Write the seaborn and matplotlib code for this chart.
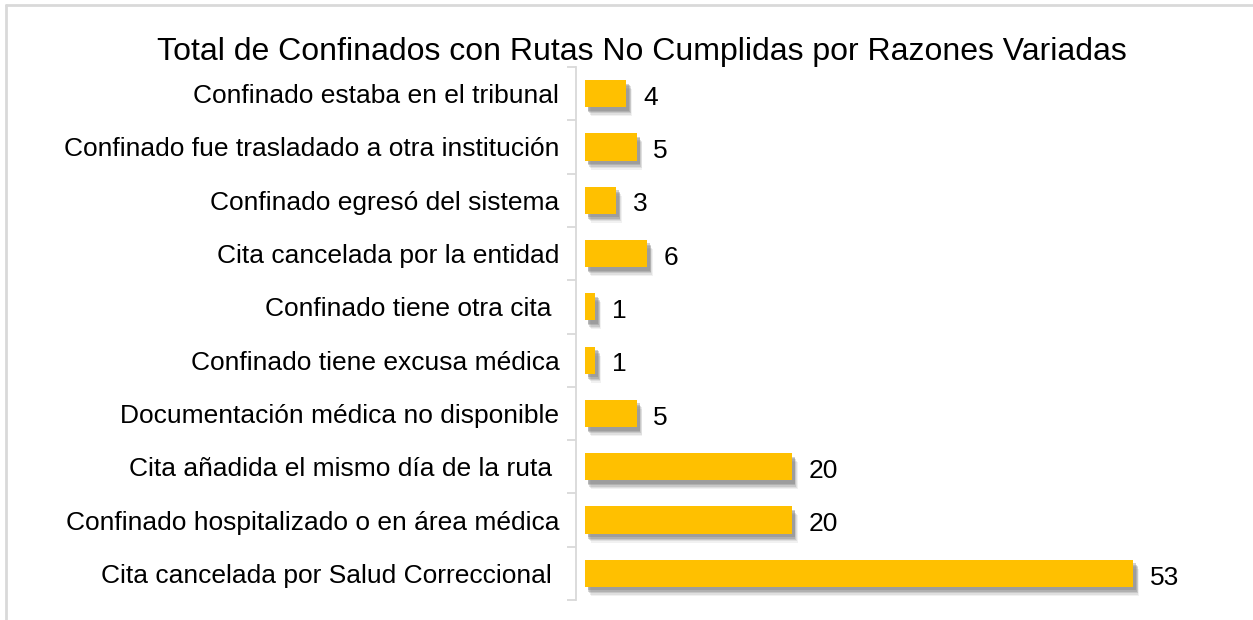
import matplotlib
matplotlib.use("Agg")
import matplotlib.pyplot as plt
import matplotlib.patheffects as pe
from matplotlib.lines import Line2D
import seaborn as sns
import pandas as pd

# Categories, top to bottom as shown
razones = [
    "Confinado estaba en el tribunal",
    "Confinado fue trasladado a otra institución",
    "Confinado egresó del sistema",
    "Cita cancelada por la entidad",
    "Confinado tiene otra cita ",
    "Confinado tiene excusa médica",
    "Documentación médica no disponible",
    "Cita añadida el mismo día de la ruta ",
    "Confinado hospitalizado o en área médica",
    "Cita cancelada por Salud Correccional ",
]
totales = [4, 5, 3, 6, 1, 1, 5, 20, 20, 53]

titulo = "Total de Confinados con Rutas No Cumplidas por Razones Variadas"

df = pd.DataFrame({"razon": razones, "total": totales})

sns.set_style("white")
plt.rcParams["font.family"] = ["Liberation Sans", "DejaVu Sans"]

fig = plt.figure(figsize=(12.53, 6.2), dpi=100)
ax = fig.add_axes([576 / 1253, 1 - 600 / 620, (1240 - 576) / 1253, (600 - 67) / 620])

sns.barplot(data=df, y="razon", x="total", orient="h", color="#FFC000",
            saturation=1, width=0.51, linewidth=0, ax=ax)

# soft drop shadow: a few stacked offsets to fake the blur
sombra = [pe.SimplePatchShadow(offset=(dx, dy), shadow_rgbFace="#7a7a7a", alpha=a)
          for dx, dy, a in [(4, -6.5, 0.10), (3.5, -5.5, 0.15), (3, -4.5, 0.22),
                            (2.5, -3.5, 0.3), (2, -2.5, 0.35)]]
for bar in ax.patches:
    bar.set_path_effects(sombra + [pe.Normal()])

for bar, val in zip(ax.patches, totales):
    ax.annotate(str(val), (bar.get_width(), bar.get_y() + bar.get_height() / 2),
                xytext=(12, -3), textcoords="offset points",
                ha="left", va="center", fontsize=19, color="black")

ax.set_xlim(-0.87, 63.3)
ax.set_ylim(9.5, -0.5)
ax.set_xlabel("")
ax.set_ylabel("")
ax.set_xticks([])

for side in ["top", "right", "bottom"]:
    ax.spines[side].set_visible(False)
ax.spines["left"].set_color("#d9d9d9")
ax.spines["left"].set_linewidth(1.3)

ax.set_yticks([i - 0.5 for i in range(11)], minor=True)
ax.tick_params(axis="y", which="minor", length=6.5, width=1.3, color="#d9d9d9", left=True)
ax.tick_params(axis="y", which="major", length=0, pad=12, labelsize=19, labelcolor="black")

fig.text(642 / 1253, 1 - 52 / 620, titulo, ha="center", va="center", fontsize=23, color="black")

# chart frame: only left and top edges are visible in the crop
fig.add_artist(Line2D([6 / 1253, 6 / 1253], [0, 1 - 5 / 620], transform=fig.transFigure,
                      color="#d9d9d9", linewidth=2))
fig.add_artist(Line2D([6 / 1253, 1], [1 - 5 / 620, 1 - 5 / 620], transform=fig.transFigure,
                      color="#d9d9d9", linewidth=2))

fig.savefig("out.png", dpi=100)
